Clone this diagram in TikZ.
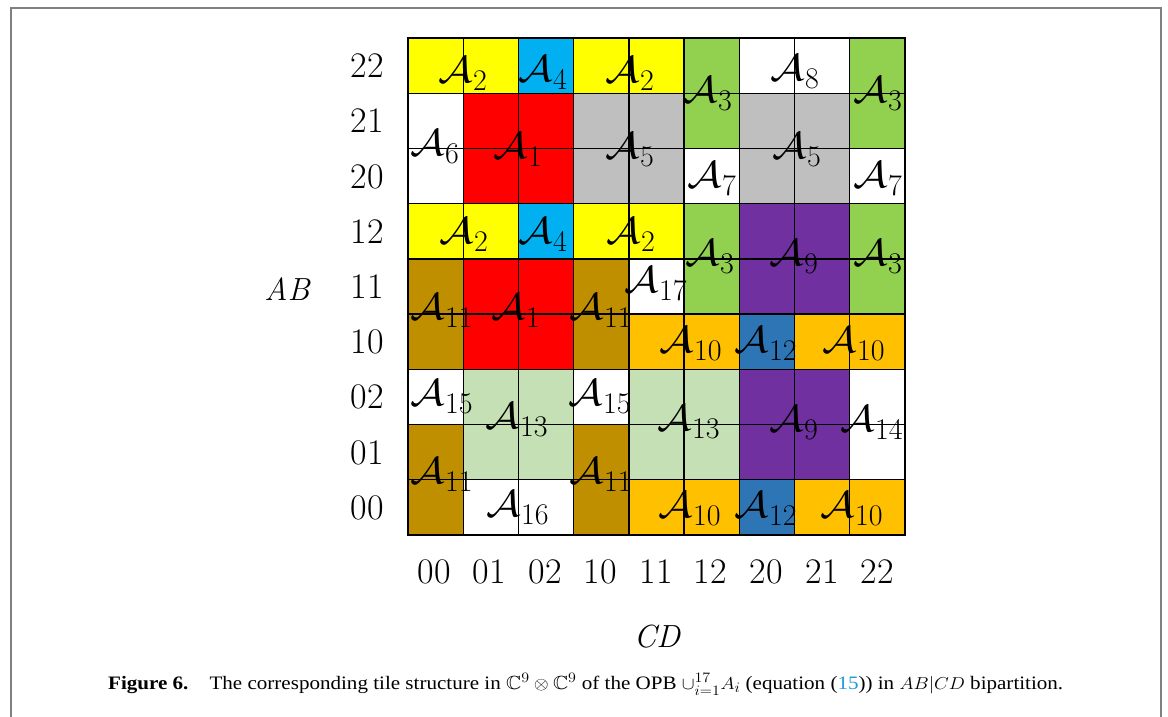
\documentclass[tikz,border=0pt]{standalone}
\usepackage{amssymb}
\usepackage{graphicx}
\usepackage{fontspec}
\newfontfamily\capfont{Liberation Serif}
\definecolor{tyellow}{HTML}{FFFF00}
\definecolor{tcyan}{HTML}{00B0F0}
\definecolor{tred}{HTML}{FF0000}
\definecolor{tgray}{HTML}{BFBFBF}
\definecolor{tgreen}{HTML}{92D050}
\definecolor{tpurple}{HTML}{7030A0}
\definecolor{tgold}{HTML}{BF8F00}
\definecolor{torange}{HTML}{FFC000}
\definecolor{tblue}{HTML}{2E75B6}
\definecolor{tlgreen}{HTML}{C5E0B4}
\definecolor{framegray}{HTML}{808080}
\definecolor{capblue}{HTML}{1E9BD7}
\newcommand{\tileA}[1]{\scalebox{4.3}[3.75]{$\mathcal{A}$}\kern0.5pt\raisebox{-8pt}{\fontsize{30}{30}\selectfont #1}}
\newsavebox\capbox
\begin{document}
\sbox\capbox{\capfont\fontsize{19}{22}\selectfont\textbf{Figure 6.}\quad The corresponding tile structure in $\mathbb{C}^9\otimes\mathbb{C}^9$ of the OPB $\cup_{i=1}^{17}A_i$ (equation (\textcolor{capblue}{15})) in $AB|CD$ bipartition.}
\begin{tikzpicture}[x=1pt,y=-1pt,
  lab/.style={anchor=base west,inner sep=0pt},
  axlab/.style={anchor=base,inner sep=0pt,font=\fontsize{36}{36}\selectfont},
  thinline/.style={line width=1.4pt,black},
  thickline/.style={line width=2.8pt,black}]
\useasboundingbox (0,0) rectangle (1168,716);
\draw[framegray,line width=2pt] (11,720) -- (11,8) -- (1161,8) -- (1161,720);
\begin{scope}[shift={(408,38)},x=55.22pt,y=-55.22pt]
  % yellow
  \fill[tyellow] (0,0) rectangle (2,1); \fill[tyellow] (3,0) rectangle (5,1);
  \fill[tyellow] (0,3) rectangle (2,4); \fill[tyellow] (3,3) rectangle (5,4);
  % cyan
  \fill[tcyan] (2,0) rectangle (3,1); \fill[tcyan] (2,3) rectangle (3,4);
  % green
  \fill[tgreen] (5,0) rectangle (6,2); \fill[tgreen] (8,0) rectangle (9,2);
  \fill[tgreen] (5,3) rectangle (6,5); \fill[tgreen] (8,3) rectangle (9,5);
  % white
  \fill[white] (6,0) rectangle (8,1); \fill[white] (0,1) rectangle (1,3);
  \fill[white] (5,2) rectangle (6,3); \fill[white] (8,2) rectangle (9,3);
  \fill[white] (4,4) rectangle (5,5); \fill[white] (0,6) rectangle (1,7);
  \fill[white] (3,6) rectangle (4,7); \fill[white] (8,6) rectangle (9,8);
  \fill[white] (1,8) rectangle (3,9);
  % red
  \fill[tred] (1,1) rectangle (3,3); \fill[tred] (1,4) rectangle (3,6);
  % gray
  \fill[tgray] (3,1) rectangle (5,3); \fill[tgray] (6,1) rectangle (8,3);
  % purple
  \fill[tpurple] (6,3) rectangle (8,5); \fill[tpurple] (6,6) rectangle (8,8);
  % gold
  \fill[tgold] (0,4) rectangle (1,6); \fill[tgold] (3,4) rectangle (4,6);
  \fill[tgold] (0,7) rectangle (1,9); \fill[tgold] (3,7) rectangle (4,9);
  % orange
  \fill[torange] (4,5) rectangle (6,6); \fill[torange] (7,5) rectangle (9,6);
  \fill[torange] (4,8) rectangle (6,9); \fill[torange] (7,8) rectangle (9,9);
  % blue
  \fill[tblue] (6,5) rectangle (7,6); \fill[tblue] (6,8) rectangle (7,9);
  % light green
  \fill[tlgreen] (1,6) rectangle (3,8); \fill[tlgreen] (4,6) rectangle (6,8);
  % grid
  \foreach \i in {1,...,8} {
    \draw[thinline] (\i,0) -- (\i,9);
    \draw[thinline] (0,\i) -- (9,\i);
  }
  \draw[thickline] (0,0) rectangle (9,9);
\end{scope}
% tile labels
\node[lab] (a2a) at (438,82) {\tileA{2}};
\node[lab] (a4a) at (518,81) {\tileA{4}};
\node[lab] (a2b) at (605,82) {\tileA{2}};
\node[lab] (a3a) at (683,102) {\tileA{3}};
\node[lab] (a8) at (770,80) {\tileA{8}};
\node[lab] (a3b) at (853,102) {\tileA{3}};
\node[lab] (a6) at (410,155) {\tileA{6}};
\node[lab] (a1a) at (493,158) {\tileA{1}};
\node[lab] (a5a) at (605,158) {\tileA{5}};
\node[lab] (a5b) at (772,158) {\tileA{5}};
\node[lab] (a7a) at (687,187) {\tileA{7}};
\node[lab] (a7b) at (853,187) {\tileA{7}};
\node[lab] (a2c) at (439,243) {\tileA{2}};
\node[lab] (a4b) at (518,243) {\tileA{4}};
\node[lab] (a2d) at (606,243) {\tileA{2}};
\node[lab] (a3c) at (685,265) {\tileA{3}};
\node[lab] (a9a) at (769,265) {\tileA{9}};
\node[lab] (a3d) at (853,265) {\tileA{3}};
\node[lab] (a17) at (624,292) {\tileA{17}};
\node[lab] (a11a) at (410,319) {\tileA{11}};
\node[lab] (a1b) at (491,319) {\tileA{1}};
\node[lab] (a11b) at (569,319) {\tileA{11}};
\node[lab] (a10a) at (659,352) {\tileA{10}};
\node[lab] (a12a) at (734,352) {\tileA{12}};
\node[lab] (a10b) at (822,352) {\tileA{10}};
\node[lab] (a15a) at (410,405) {\tileA{15}};
\node[lab] (a15b) at (568,405) {\tileA{15}};
\node[lab] (a13a) at (485,428) {\tileA{13}};
\node[lab] (a13b) at (657,430) {\tileA{13}};
\node[lab] (a9b) at (769,431) {\tileA{9}};
\node[lab] (a14) at (840,431) {\tileA{14}};
\node[lab] (a11c) at (410,483) {\tileA{11}};
\node[lab] (a11d) at (569,483) {\tileA{11}};
\node[lab] (a16) at (486,516) {\tileA{16}};
\node[lab] (a10c) at (658,517) {\tileA{10}};
\node[lab] (a12b) at (734,517) {\tileA{12}};
\node[lab] (a10d) at (820,517) {\tileA{10}};
% row labels
\node[axlab] (r22) at (367,77) {22};
\node[axlab] (r21) at (367,132) {21};
\node[axlab] (r20) at (367,188) {20};
\node[axlab] (r12) at (367,243) {12};
\node[axlab] (r11) at (367,298) {11};
\node[axlab] (r10) at (367,353) {10};
\node[axlab] (r02) at (367,408) {02};
\node[axlab] (r01) at (367,464) {01};
\node[axlab] (r00) at (367,519) {00};
% column labels
\node[axlab] (c00) at (434,583) {00};
\node[axlab] (c01) at (489,583) {01};
\node[axlab] (c02) at (545,583) {02};
\node[axlab] (c10) at (600,583) {10};
\node[axlab] (c11) at (656,583) {11};
\node[axlab] (c12) at (710,583) {12};
\node[axlab] (c20) at (766,583) {20};
\node[axlab] (c21) at (822,583) {21};
\node[axlab] (c22) at (877,583) {22};
% axis names
\node[anchor=base,inner sep=0pt,font=\fontsize{32}{32}\selectfont\itshape] (ab) at (287,300) {AB};
\node[anchor=base,inner sep=0pt,font=\fontsize{32}{32}\selectfont\itshape] (cd) at (657,647) {CD};
% caption
\node[anchor=base west,inner sep=0pt] (cap) at (108,689) {\resizebox{955pt}{\height}{\usebox\capbox}};
\end{tikzpicture}
\end{document}
